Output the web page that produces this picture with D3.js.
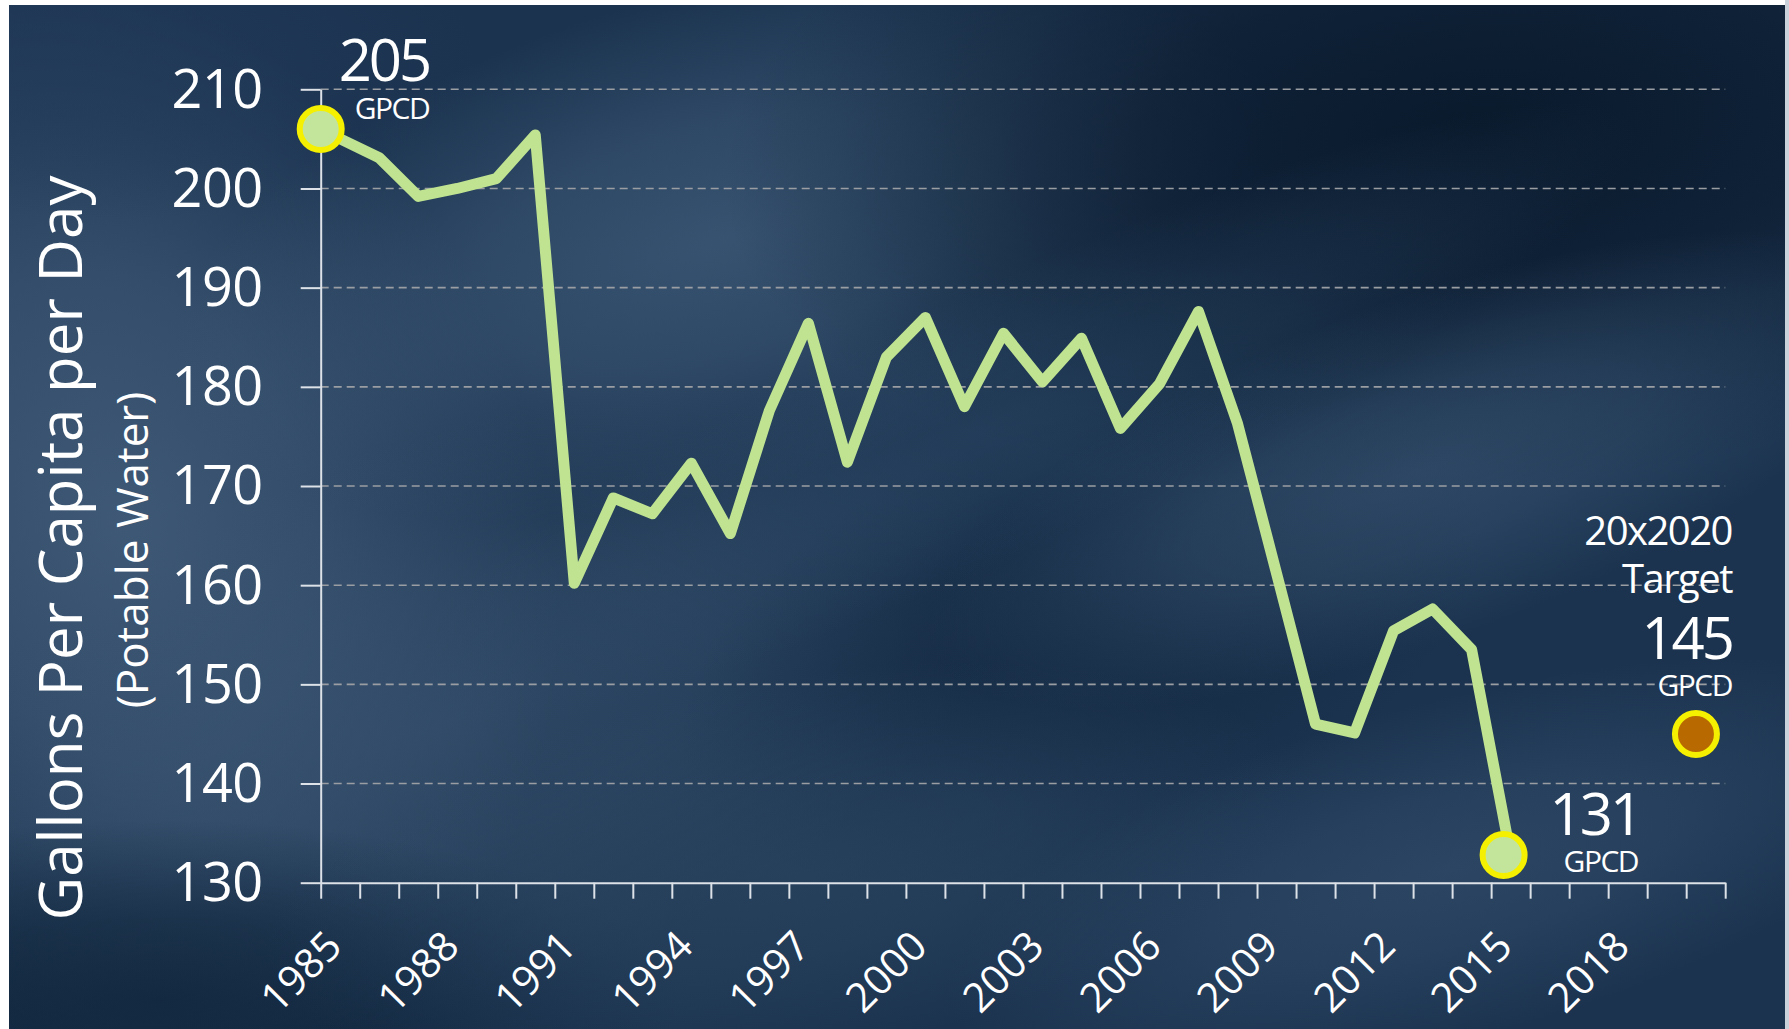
<!DOCTYPE html>
<html><head><meta charset="utf-8">
<script src="https://cdn.jsdelivr.net/npm/d3@7"></script>
<style>html,body{margin:0;padding:0;background:#fff;overflow:hidden}</style>
</head><body>
<svg id="c" width="1789" height="1029"></svg>
<script>
// ---- data ----
const years = d3.range(1985, 2016);
const gpcd = [205, 203.1, 199.2, 200, 201, 205.4, 160.2, 168.8, 167.2, 172.3, 165.2,
  177.6, 186.4, 172.4, 183.0, 187.0, 178.0, 185.4, 180.5, 184.9, 175.8, 180.3,
  187.6, 176.3, 161.2, 146.0, 145.1, 155.4, 157.6, 153.5, 132.8];
const yTicks = [130, 140, 150, 160, 170, 180, 190, 200, 210];
const xLabelYears = [1985, 1988, 1991, 1994, 1997, 2000, 2003, 2006, 2009, 2012, 2015, 2018];
const markerYears = [1984.5, 2014.82, 2019.75];
const markerValues = [206, 132.8, 145];
const markerLabels = ["205", "131", "145"];
const markerKinds = ["start", "end", "target"];
const unitLabel = "GPCD";
const targetTitle = ["20x2020", "Target"];
const yTitle = "Gallons Per Capita per Day";
const ySubtitle = "(Potable Water)";

const W = 1789, H = 1029;
const svg = d3.select("#c");
const defs = svg.append("defs");
defs.append("clipPath").attr("id", "bgclip").append("rect").attr("x", 9).attr("y", 5).attr("width", 1776).attr("height", H - 5);

// ---- background ----
svg.append("rect").attr("width", W).attr("height", H).attr("fill", "#ffffff");
svg.append("rect").attr("x", 1785).attr("y", 0).attr("width", 4).attr("height", H).attr("fill", "#c9d2db");
const bg = svg.append("g").attr("clip-path", "url(#bgclip)");
bg.append("rect").attr("x", 9).attr("y", 5).attr("width", 1776).attr("height", H - 5).attr("fill", "#1b334f");
const blobs = [
  [120, 520, 420, 560, "#445f7d", 0.85, -20],
  [720, 240, 560, 250, "#405d7b", 0.75, -15],
  [450, 720, 600, 280, "#3a5572", 0.6, -20],
  [1480, 130, 760, 360, "#081729", 0.9, -5],
  [1080, 640, 420, 220, "#10243b", 0.5, -20],
  [160, 1000, 520, 180, "#0f243b", 0.8, 0],
  [1420, 470, 520, 170, "#3a5674", 0.6, -20],
  [1450, 870, 520, 170, "#3b5776", 0.5, -15],
  [120, 60, 360, 160, "#223b5a", 0.6, 0],
  [780, 870, 520, 190, "#304b67", 0.55, -10],
  [1000, 420, 700, 130, "#32506e", 0.35, -25]
];
blobs.forEach((b, i) => {
  const g = defs.append("radialGradient").attr("id", "bg" + i);
  g.append("stop").attr("offset", "0%").attr("stop-color", b[4]).attr("stop-opacity", b[5]);
  g.append("stop").attr("offset", "45%").attr("stop-color", b[4]).attr("stop-opacity", b[5] * 0.7);
  g.append("stop").attr("offset", "100%").attr("stop-color", b[4]).attr("stop-opacity", 0);
});
bg.append("g").selectAll("ellipse").data(blobs).join("ellipse")
  .attr("cx", d => d[0]).attr("cy", d => d[1]).attr("rx", d => d[2]).attr("ry", d => d[3])
  .attr("fill", (d, i) => `url(#bg${i})`)
  .attr("transform", d => `rotate(${d[6]},${d[0]},${d[1]})`);

// ---- scales ----
const x = d3.scaleLinear().domain([1984.5, 2020.5]).range([320.7, 1725.2]);
const y = d3.scaleLinear().domain([130, 210]).range([882.7, 89.3]);
const font = "'Open Sans', 'Noto Sans', sans-serif";
const axisCol = "#dde2e8";

// gridlines
svg.append("g").selectAll("line").data(yTicks.filter(v => v > 130)).join("line")
  .attr("x1", x(1984.5)).attr("x2", x(2020.5)).attr("y1", d => y(d)).attr("y2", d => y(d))
  .attr("stroke", "#9a9ea3").attr("stroke-width", 1.6).attr("stroke-dasharray", "8,5");

// y axis
const gy = svg.append("g").attr("transform", `translate(${x(1984.5)},0)`)
  .call(d3.axisLeft(y).tickValues(yTicks).tickSizeInner(20).tickSizeOuter(0).tickPadding(38));
gy.select(".domain").attr("stroke", axisCol).attr("stroke-width", 2);
gy.selectAll(".tick line").attr("stroke", axisCol).attr("stroke-width", 2);
gy.selectAll(".tick text").attr("fill", "#ffffff").attr("dy", "0.33em")
  .style("font-family", font).style("font-size", "54px").style("letter-spacing", "-0.5px");

// x axis
const gx = svg.append("g").attr("transform", `translate(0,${y(130)})`)
  .call(d3.axisBottom(x).tickValues(d3.range(1984.5, 2021, 1)).tickSizeInner(16).tickSizeOuter(0).tickFormat(""));
gx.select(".domain").attr("stroke", axisCol).attr("stroke-width", 2);
gx.selectAll(".tick line").attr("stroke", axisCol).attr("stroke-width", 2);

svg.append("g").selectAll("text").data(xLabelYears).join("text")
  .attr("transform", d => `translate(${x(d) + 4},${y(130) + 66}) rotate(-45)`)
  .attr("text-anchor", "end").attr("fill", "#ffffff")
  .style("font-family", font).style("font-size", "41px").text(d => d);

// axis titles
svg.append("text").attr("transform", `translate(82,548) rotate(-90)`)
  .attr("text-anchor", "middle").attr("fill", "#ffffff")
  .style("font-family", font).style("font-size", "60px").text(yTitle);
svg.append("text").attr("transform", `translate(148,550) rotate(-90)`)
  .attr("text-anchor", "middle").attr("fill", "#ffffff")
  .style("font-family", font).style("font-size", "44px").text(ySubtitle);

// ---- line ----
const pts = years.map((yr, i) => [yr, gpcd[i]]);
svg.append("path").datum(pts)
  .attr("d", d3.line().x(d => x(d[0])).y(d => y(d[1])))
  .attr("fill", "none").attr("stroke", "#bfe390").attr("stroke-width", 11)
  .attr("stroke-linejoin", "round").attr("stroke-linecap", "round");

// ---- markers ----
const mk = markerYears.map((yr, i) => ({ year: yr, value: markerValues[i], label: markerLabels[i], kind: markerKinds[i] }));
svg.append("g").selectAll("circle").data(mk).join("circle")
  .attr("cx", d => x(d.year)).attr("cy", d => y(d.value)).attr("r", 21)
  .attr("fill", d => d.kind === "target" ? "#b86a00" : "#c3e49b")
  .attr("stroke", "#f5f000").attr("stroke-width", 6);

// ---- annotations ----
const ann = svg.append("g").attr("fill", "#ffffff").style("font-family", font);
// start
const s = mk[0];
ann.append("text").attr("x", x(s.year) + 18).attr("y", y(s.value) - 48)
  .style("font-size", "58px").style("letter-spacing", "-3px").text(s.label);
ann.append("text").attr("x", x(s.year) + 34).attr("y", y(s.value) - 10)
  .style("font-size", "30px").style("letter-spacing", "-1.5px").text(unitLabel);
// end
const e = mk[1];
ann.append("text").attr("x", x(e.year) + 46).attr("y", y(e.value) - 20)
  .style("font-size", "58px").style("letter-spacing", "-3px").text(e.label);
ann.append("text").attr("x", x(e.year) + 60).attr("y", y(e.value) + 17)
  .style("font-size", "30px").style("letter-spacing", "-1.5px").text(unitLabel);
// target
const t = mk[2];
const tx = x(t.year) + 36;
ann.append("text").attr("x", tx).attr("y", y(t.value) - 189).attr("text-anchor", "end")
  .style("font-size", "40px").style("letter-spacing", "-1.5px").text(targetTitle[0]);
ann.append("text").attr("x", tx).attr("y", y(t.value) - 141).attr("text-anchor", "end")
  .style("font-size", "40px").style("letter-spacing", "-1.5px").text(targetTitle[1]);
ann.append("text").attr("x", tx).attr("y", y(t.value) - 75).attr("text-anchor", "end")
  .style("font-size", "58px").style("letter-spacing", "-3px").text(t.label);
ann.append("text").attr("x", tx).attr("y", y(t.value) - 38).attr("text-anchor", "end")
  .style("font-size", "30px").style("letter-spacing", "-1.5px").text(unitLabel);
</script>
</body></html>
